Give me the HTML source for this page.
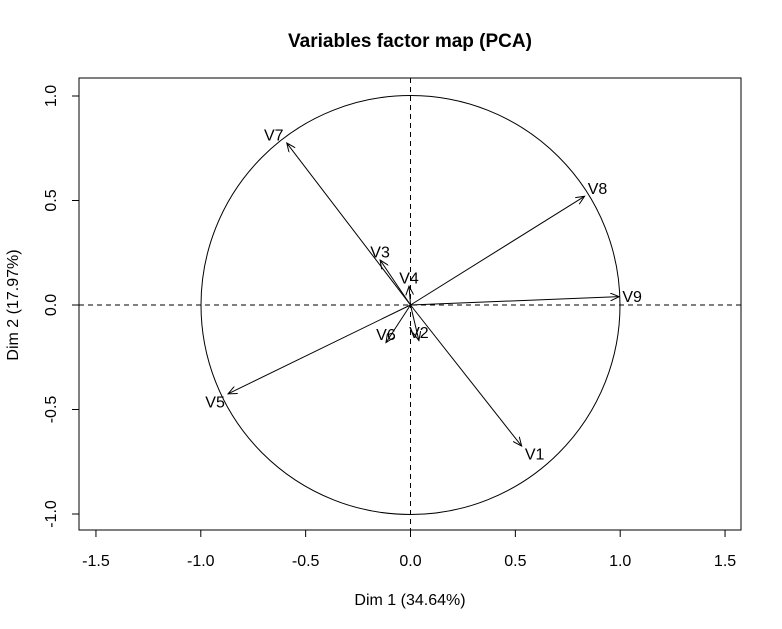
<!DOCTYPE html>
<html><head><meta charset="utf-8"><style>
body{margin:0;background:#fff;}
svg{display:block;font-family:"Liberation Sans",sans-serif;}
</style></head><body>
<svg id="chart" width="782" height="629" viewBox="0 0 782 629">
<defs><marker id="ah" markerWidth="10" markerHeight="8" refX="9" refY="4" orient="auto" markerUnits="userSpaceOnUse"><path d="M0,0 L9,4 L0,8" fill="none" stroke="#000" stroke-width="1"/></marker></defs>
<text x="410" y="47" text-anchor="middle" font-size="19" font-weight="bold">Variables factor map (PCA)</text>
<rect x="79" y="78" width="662" height="452" fill="none" stroke="#000"/>
<text x="410" y="605" text-anchor="middle" font-size="16">Dim 1 (34.64%)</text>
<text transform="translate(18,305) rotate(-90)" text-anchor="middle" font-size="16">Dim 2 (17.97%)</text>
<g id="axes"></g><g id="marks"></g>
</svg>
<script>
const varNames=["V1","V2","V3","V4","V5","V6","V7","V8","V9"];
const dim1=[0.53,0.04,-0.145,-0.007,-0.87,-0.117,-0.59,0.83,0.995];
const dim2=[-0.675,-0.17,0.215,0.09,-0.425,-0.18,0.775,0.52,0.04];
const xTicks=[-1.5,-1.0,-0.5,0.0,0.5,1.0,1.5];
const yTicks=[-1.0,-0.5,0.0,0.5,1.0];
const xTickLabels=["-1.5","-1.0","-0.5","0.0","0.5","1.0","1.5"];
const yTickLabels=["-1.0","-0.5","0.0","0.5","1.0"];
const X=v=>410.5+v*209.7, Y=v=>305-v*209;
const NS="http://www.w3.org/2000/svg";
const ax=document.getElementById('axes'), mk=document.getElementById('marks');
function mkEl(t,a,p){const e=document.createElementNS(NS,t);for(const k in a)e.setAttribute(k,a[k]);p.appendChild(e);return e;}
let l=mkEl('line',{x1:X(-1.5),x2:X(1.5),y1:530,y2:530,stroke:'#000'},ax);


xTicks.forEach((t,i)=>{const tk=mkEl('line',{x1:X(t),x2:X(t),y1:530,y2:537,stroke:'#000'},ax);


const tx=mkEl('text',{x:X(t),y:566,'text-anchor':'middle','font-size':16},ax);tx.textContent=xTickLabels[i];

});
l=mkEl('line',{x1:79,x2:79,y1:Y(-1),y2:Y(1),stroke:'#000'},ax);


yTicks.forEach((t,i)=>{const tk=mkEl('line',{x1:72,x2:79,y1:Y(t),y2:Y(t),stroke:'#000'},ax);


const tx=mkEl('text',{transform:`translate(56,${Y(t)}) rotate(-90)`,'text-anchor':'middle','font-size':16},ax);tx.textContent=yTickLabels[i];

});
let c=mkEl('circle',{cx:X(0),cy:Y(0),r:209.5,fill:'none',stroke:'#000'},mk);


l=mkEl('line',{x1:79,x2:741,y1:Y(0),y2:Y(0),stroke:'#000','stroke-dasharray':'5,4'},mk);


l=mkEl('line',{x1:X(0),x2:X(0),y1:78,y2:530,stroke:'#000','stroke-dasharray':'5,4'},mk);


varNames.forEach((n,i)=>{const x=dim1[i],y=dim2[i];
const a=mkEl('line',{x1:X(0),y1:Y(0),x2:X(x),y2:Y(y),stroke:'#000','marker-end':'url(#ah)'},mk);


let dx=Math.abs(x)>0.3?Math.sign(x)*13:0;
let dy=(y>0||Math.abs(x)<0.3)?-8:8; if(Math.abs(y)<0.1&&Math.abs(x)>0.3)dy=0;
const t=mkEl('text',{x:X(x)+dx,y:Y(y)+dy+5.5,'text-anchor':'middle','font-size':16},mk);t.textContent=n;

});
</script>
</body></html>
